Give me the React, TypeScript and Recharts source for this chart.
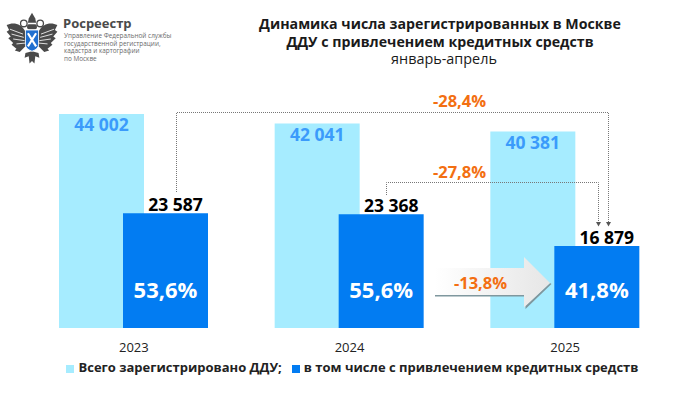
import React from "react";
import { BarChart, Bar, XAxis, YAxis, LabelList, Legend } from "recharts";

const years = ["2023", "2024", "2025"];
const totalDeals = [44002, 42041, 40381];
const creditDeals = [23587, 23368, 16879];
const creditShare = ["53,6%", "55,6%", "41,8%"];
const totalName = "Всего зарегистрировано ДДУ;";
const creditName = "в том числе с привлечением кредитных средств";
const titleLines = ["Динамика числа зарегистрированных в Москве", "ДДУ с привлечением кредитных средств"];
const subtitle = "январь-апрель";
const orgName = "Росреестр";
const orgLines = ["Управление Федеральной службы", "государственной регистрации,", "кадастра и картографии", "по Москве"];
const changes = ["-28,4%", "-27,8%", "-13,8%"];

const data = years.map((year, i) => ({
  year,
  total: totalDeals[i],
  credit: creditDeals[i],
  share: creditShare[i],
}));

const FONT = "'Open Sans', sans-serif";
const fmt = (v: number) => String(v).replace(/\B(?=(\d{3})+$)/g, " ");

function Logo() {
  const feathers = "M6 21 L22 27 M8 27 L23 31 M10 33 L24 35 M14 39 L25 38";
  return (
    <svg width={54} height={60} style={{ position: "absolute", left: 5, top: 9 }} viewBox="0 0 66 66">
      <g fill="#4a4a4a">
        <path d="M25 24 C20 14 10 12 2 16 L5 22 L2 24 L7 30 L4 32 L10 38 L8 40 L14 45 L12 47 L18 49 L25 42 Z" />
        <path d="M41 24 C46 14 56 12 64 16 L61 22 L64 24 L59 30 L62 32 L56 38 L58 40 L52 45 L54 47 L48 49 L41 42 Z" />
        <path d="M33 48 L25 50 L24 56 L29 54 L30 63 L33 60 L36 63 L37 54 L42 56 L41 50 Z" />
      </g>
      <path d={feathers} stroke="#fff" strokeWidth="1" fill="none" />
      <path d={feathers} stroke="#fff" strokeWidth="1" fill="none" transform="matrix(-1 0 0 1 66 0)" />
      <g fill="none" stroke="#4a4a4a" strokeWidth="1.6">
        <circle cx="23" cy="14" r="4" />
        <circle cx="43" cy="14" r="4" />
      </g>
      <g fill="#4a4a4a">
        <path d="M29 8 L33 1 L37 8 L38 13 L28 13 Z" />
        <rect x="27" y="15" width="12" height="6" rx="2" />
      </g>
      <path d="M25 22 H41 V40 Q41 45 33 48 Q25 45 25 40 Z" fill="#1f6fd0" stroke="#fff" strokeWidth="1" />
      <path d="M28 26 L38 42 M38 26 L28 42" stroke="#fff" strokeWidth="2.6" />
    </svg>
  );
}

function Connectors() {
  const dotted = { stroke: "#777", strokeWidth: 1, strokeDasharray: "1 1", fill: "none" };
  return (
    <svg width={698} height={393} style={{ position: "absolute", left: 0, top: 0, pointerEvents: "none" }}>
      <defs>
        <linearGradient id="arrowFill" x1="0" x2="1" y1="0" y2="0">
          <stop offset="0" stopColor="#ffffff" />
          <stop offset="1" stopColor="#e6e6e6" />
        </linearGradient>
      </defs>
      <path d="M176.5 192 V112.5 H608.5 V222" {...dotted} />
      <path d="M386.5 195 V182.5 H598.5 V222" {...dotted} />
      <path d="M596 222 H601 L598.5 226.5 Z" fill="#555" />
      <path d="M606 222 H611 L608.5 226.5 Z" fill="#555" />
      <path d="M435 296.5 H525.5 V309 L551.5 284 L550 283 L524 307 V295 H435 Z" fill="#7f979e" />
      <path d="M435 295 H524 V307.5 L550 283 L524 257 V268 H435 Z" fill="url(#arrowFill)" />
      <g fontFamily={FONT} fontWeight={700} fontSize={16.5} fill="#f36f12" textAnchor="middle">
        <text x={459.5} y={107}>{changes[0]}</text>
        <text x={459.5} y={178}>{changes[1]}</text>
        <text x={480.5} y={289}>{changes[2]}</text>
      </g>
    </svg>
  );
}

export default function App() {
  return (
    <div style={{ position: "absolute", left: 0, top: 0, width: 698, height: 393, background: "#fff", fontFamily: FONT, overflow: "hidden" }}>
      <BarChart
        width={698}
        height={393}
        data={data}
        margin={{ top: 10, right: 25, bottom: 17, left: 26 }}
        barSize={85}
        barGap={-21}
      >
        <XAxis
          dataKey="year"
          axisLine={false}
          tickLine={false}
          tick={{ fontSize: 13, fill: "#222", fontFamily: FONT }}
          tickMargin={9}
        />
        <YAxis hide domain={[0, 65387]} />
        <Legend
          verticalAlign="bottom"
          iconType="square"
          iconSize={8}
          wrapperStyle={{ bottom: 17, left: 34, fontFamily: FONT, fontSize: 13, fontWeight: 700 }}
          formatter={(value: string) => <span style={{ color: "#222" }}>{value}</span>}
        />
        <Bar dataKey="total" name={totalName} fill="#a6ecff" isAnimationActive={false}>
          <LabelList dataKey="total" position="insideTop" offset={5} formatter={fmt as any} fill="#3b9bfb" fontSize={17.5} fontWeight={700} fontFamily={FONT} />
        </Bar>
        <Bar dataKey="credit" name={creditName} fill="#027cf2" isAnimationActive={false}>
          <LabelList dataKey="credit" position="top" offset={2} dx={10} formatter={fmt as any} fill="#000" fontSize={17.5} fontWeight={700} fontFamily={FONT} />
          <LabelList dataKey="share" position="insideBottom" offset={30} fill="#fff" fontSize={22} fontWeight={700} fontFamily={FONT} />
        </Bar>
      </BarChart>
      <Connectors />
      <Logo />
      <div style={{ position: "absolute", left: 63, top: 15, fontSize: 13, fontWeight: 700, color: "#4a4a4a", lineHeight: "16px" }}>{orgName}</div>
      <div style={{ position: "absolute", left: 64, top: 32, fontSize: 6.4, color: "#6a6a6a", lineHeight: "7.7px", whiteSpace: "nowrap" }}>
        {orgLines.map((l) => <div key={l}>{l}</div>)}
      </div>
      <div style={{ position: "absolute", left: 210, width: 460, top: 15, textAlign: "center", color: "#1a1a1a", fontSize: 14.2, fontWeight: 700, lineHeight: "17.5px", whiteSpace: "nowrap" }}>
        {titleLines.map((l) => <div key={l}>{l}</div>)}
        <div style={{ fontSize: 14.4, fontWeight: 400, paddingLeft: 8 }}>{subtitle}</div>
      </div>
    </div>
  );
}
